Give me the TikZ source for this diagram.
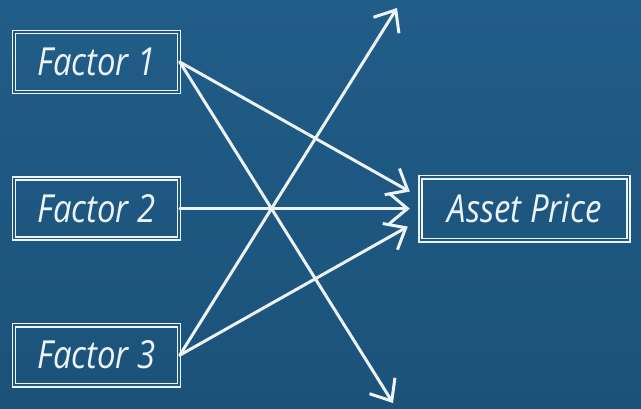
\documentclass[tikz,border=0pt]{standalone}
\usepackage{fontspec}
\usetikzlibrary{positioning, arrows.meta, calc}
\newfontfamily\chalkfont{Open Sans}[FakeStretch=0.85]
\definecolor{cBoard}{RGB}{30,87,128}
\definecolor{cBoardTop}{RGB}{32,93,136}
\definecolor{cBoardBot}{RGB}{27,82,122}
\definecolor{cChalk}{RGB}{238,245,250}
\tikzset{
    chalkbox/.style={
        rectangle, draw=cChalk, double=cBoard, double distance=1pt,
        line width=0.9pt, inner sep=3pt,
        text=cChalk, font=\chalkfont\itshape\fontsize{22}{25}\selectfont,
        minimum height=12mm, minimum width=33mm,
    },
    chalkarrow/.style={
        -{Straight Barb[length=3.6mm, width=6mm]}, line width=1.7pt,
        draw=cChalk, line cap=round, line join=round
    },
}
\begin{document}
\begin{tikzpicture}

% ============================================================
%  Blackboard
% ============================================================
\shade[top color=cBoardTop, bottom color=cBoardBot]
    (0,0) rectangle (12.82,-8.16);
\useasboundingbox (0,0) rectangle (12.82,-8.16);

% ============================================================
%  Factors on the left, price on the right
% ============================================================
\node[chalkbox] (f1) at (1.93,-1.24) {Factor 1};
\node[chalkbox, below=17mm of f1] (f2) {Factor 2};
\node[chalkbox, below=17mm of f2] (f3) {Factor 3};

\node[chalkbox, right=48mm of f2, minimum width=41.6mm,
      minimum height=12.6mm] (price) {Asset Price};

% Arrow ends: three into the price box, two running off the board.
\coordinate (inA) at ($(price.west) + (-0.2,0.34)$);
\coordinate (inB) at ($(price.west) + (-0.2,0)$);
\coordinate (inC) at ($(price.west) + (-0.24,-0.36)$);
\coordinate (upEnd)   at (7.94,-0.16);
\coordinate (downEnd) at (7.86,-8.06);

% ============================================================
%  Arrows
% ============================================================
\draw[chalkarrow] (f1.east) -- (inA);
\draw[chalkarrow] (f1.east) -- (downEnd);
\draw[chalkarrow] (f2.east) -- (inB);
\draw[chalkarrow] (f3.east) -- (inC);
\draw[chalkarrow] (f3.east) -- (upEnd);

\end{tikzpicture}
\end{document}
